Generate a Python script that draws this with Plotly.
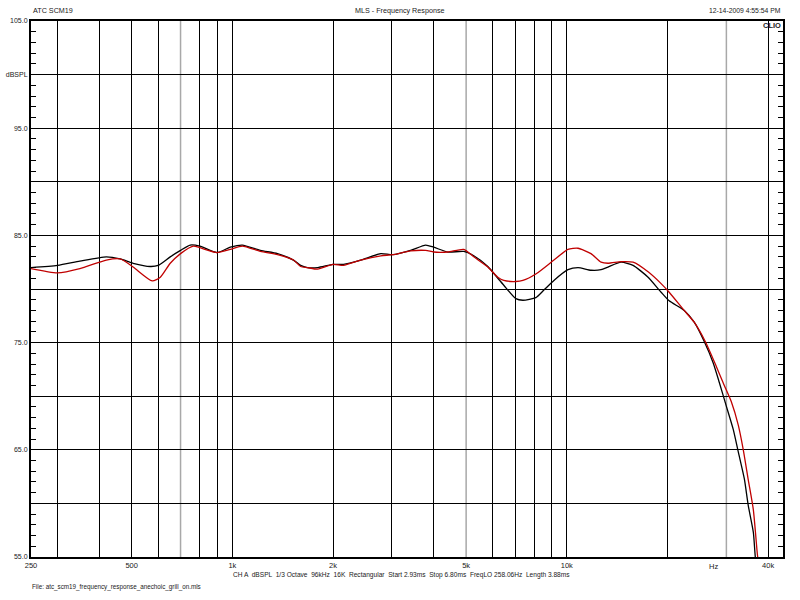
import plotly.graph_objects as go
import math

# ---- data ----
black_freq = [250, 300, 350, 420, 462, 505, 568, 600, 652, 700, 748, 800, 900, 986, 1071, 1213, 1364, 1523,
              1600, 1677, 1800, 2000, 2150, 2420, 2780, 3015, 3410, 3785, 4000, 4405, 4920, 5270, 5805, 6220,
              6480, 7040, 7390, 8080, 8540, 9150, 10080, 10800, 11810, 12660, 13280, 14530, 15780, 17500,
              19140, 20230, 22440, 24040, 25760, 27400, 28560, 29970, 31450, 32560, 33940, 34880, 36120,
              36610, 37000]
black_db = [82.0, 82.2, 82.6, 83.0, 82.8, 82.4, 82.1, 82.2, 83.0, 83.6, 84.1, 84.0, 83.4, 83.9, 84.1, 83.6, 83.3, 82.7,
            82.2, 82.0, 82.0, 82.3, 82.3, 82.7, 83.3, 83.2, 83.6, 84.1, 83.9, 83.45, 83.5, 83.1, 82.1, 81.0,
            80.35, 79.1, 78.95, 79.2, 79.9, 80.8, 81.8, 82.0, 81.75, 81.8, 82.05, 82.5, 82.2, 81.1,
            79.7, 78.9, 78.0, 76.9, 75.1, 73.1, 71.3, 69.1, 66.9, 64.8, 62.3, 59.8, 57.3,
            55.0, 54.0]

red_freq = [250, 300, 350, 420, 462, 505, 576, 609, 652, 700, 764, 800, 900, 986, 1071, 1213, 1364, 1523,
            1600, 1677, 1800, 2000, 2150, 2420, 2780, 3015, 3410, 3785, 4000, 4405, 4920, 5270, 5805, 6220,
            6480, 7040, 7390, 8080, 9150, 10080, 10800, 11810, 12660, 13280, 14530, 15780, 17500,
            19140, 20230, 22440, 24040, 25940, 27970, 29570, 31020, 32560, 33700, 34880, 36120, 37120, 37400]
red_db = [81.9, 81.5, 81.9, 82.7, 82.8, 82.05, 80.75, 81.1, 82.4, 83.3, 84.0, 83.85, 83.4, 83.7, 84.0, 83.5, 83.2, 82.7,
          82.1, 82.0, 81.85, 82.3, 82.2, 82.7, 83.1, 83.2, 83.55, 83.6, 83.45, 83.45, 83.7, 83.0, 82.05, 81.1,
          80.8, 80.7, 80.8, 81.4, 82.7, 83.7, 83.8, 83.3, 82.5, 82.4, 82.55, 82.5, 81.6,
          80.5, 79.7, 78.0, 76.9, 75.1, 72.8, 71.0, 69.5, 67.3, 65.0, 62.2, 59.4, 55.3, 54.5]

x_label_vals = [250, 500, 1000, 2000, 5000, 10000, 40000]
x_label_text = ["250", "500", "1k", "2k", "5k", "10k", "40k"]
x_grid_black = [300, 400, 500, 600, 800, 900, 1000, 2000, 3000, 4000, 6000, 7000, 8000, 9000,
                10000, 20000, 40000]
x_grid_gray = [700, 5000, 30000]
x_range = [250, 44300]

y_tick_vals = [55, 60, 65, 70, 75, 80, 85, 90, 95, 100, 105]
y_tick_text = ["55.0", "", "65.0", "", "75.0", "", "85.0", "", "95.0", "dBSPL", "105.0"]
y_range = [55, 105]
y_minor_step = 1

FONT = "Liberation Sans, Arial, sans-serif"
TXT = "#1a1a1a"

fig = go.Figure()
fig.add_trace(go.Scatter(x=black_freq, y=black_db, mode="lines",
                         line=dict(color="#000000", width=1.3, shape="spline", smoothing=0.6),
                         showlegend=False, hoverinfo="skip"))
fig.add_trace(go.Scatter(x=red_freq, y=red_db, mode="lines",
                         line=dict(color="#c00000", width=1.3, shape="spline", smoothing=0.6),
                         showlegend=False, hoverinfo="skip"))

for f in x_grid_gray:
    fig.add_shape(type="line", xref="x", yref="paper", x0=f, x1=f, y0=0, y1=1,
                  line=dict(color="#a8a8a8", width=1.5), layer="between")

fig.update_layout(
    width=800, height=600, autosize=False,
    margin=dict(l=31, r=17, t=21, b=43, autoexpand=False),
    paper_bgcolor="white", plot_bgcolor="white",
    font=dict(family=FONT, size=8, color=TXT),
    xaxis=dict(type="log", range=[math.log10(x_range[0]), math.log10(x_range[1])],
               automargin=False,
               tickmode="array", tickvals=x_label_vals, ticktext=x_label_text,
               showgrid=False, ticks="", zeroline=False,
               showline=True, linecolor="black", linewidth=2, mirror=True,
               tickfont=dict(family=FONT, size=7.5, color=TXT),
               minor=dict(tickmode="array", tickvals=x_grid_black, showgrid=True,
                          gridcolor="black", gridwidth=1, ticks="")),
    yaxis=dict(range=y_range, tickmode="array", tickvals=y_tick_vals, ticktext=y_tick_text,
               automargin=False,
               showgrid=True, gridcolor="black", gridwidth=1, zeroline=False,
               ticks="", showline=True, linecolor="black", linewidth=2, mirror=True,
               tickfont=dict(family=FONT, size=7, color=TXT)),
    yaxis2=dict(range=y_range, overlaying="y", side="left", automargin=False,
                tickmode="linear", tick0=y_range[0], dtick=y_minor_step,
                ticks="inside", ticklen=5, tickwidth=1, tickcolor="black",
                showticklabels=False, showgrid=False, zeroline=False,
                showline=False, mirror="ticks"),
)

# invisible trace to activate the tick-only overlay axis
fig.add_trace(go.Scatter(x=[x_range[0]], y=[y_range[0]], yaxis="y2", mode="markers",
                         marker=dict(opacity=0), showlegend=False, hoverinfo="skip"))

ann = [
    dict(text="ATC SCM19", x=0, xanchor="left", y=1.0205, yanchor="middle", size=7.2),
    dict(text="MLS - Frequency Response", x=0.4907, xanchor="center", y=1.0205, yanchor="middle", size=7.2),
    dict(text="12-14-2009 4:55:54 PM", x=1.0, xanchor="right", y=1.0205, yanchor="middle", size=6.8),
    dict(text="<b>CLIO</b>", x=1.0, xanchor="right", y=0.9925, yanchor="middle", size=7.5),
    dict(text="CH A  dBSPL  1/3 Octave  96kHz  16K  Rectangular  Start 2.93ms  Stop 6.80ms  FreqLO 258.06Hz  Length 3.88ms",
         x=0.266, xanchor="left", y=-0.0336, yanchor="middle", size=6.6),
    dict(text="File: atc_scm19_frequency_response_anechoic_grill_on.mls", x=-0.001, xanchor="left",
         y=-0.056, yanchor="middle", size=6.3),
]
for a in ann:
    sz = a.pop("size")
    fig.add_annotation(xref="paper", yref="paper", showarrow=False,
                       font=dict(family=FONT, size=sz, color=TXT), **a)

fig.add_annotation(xref="x", yref="paper", x=math.log10(27400), y=-0.017, yanchor="middle",
                   text="Hz", showarrow=False, font=dict(family=FONT, size=7.5, color=TXT))

fig.write_html("out.html", config={"displayModeBar": False},
               post_script="document.body.style.margin='0';document.body.style.overflow='hidden';")
